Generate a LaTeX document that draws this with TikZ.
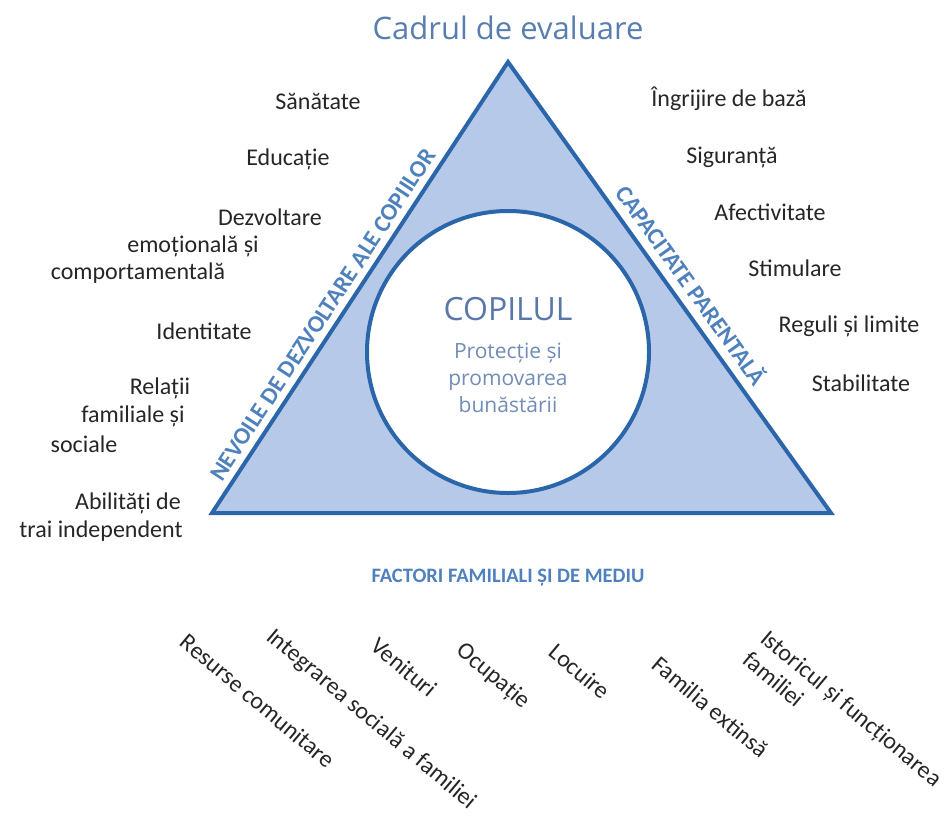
\documentclass[tikz,border=0pt]{standalone}
\usepackage{tikz}
\usepackage{fontspec}
\setmainfont{Carlito}
\newfontfamily\titlefont{Open Sans}
\definecolor{trifill}{HTML}{B7C9E9}
\definecolor{triline}{HTML}{2C66AA}
\definecolor{titleblue}{HTML}{5A7DB0}
\definecolor{sideblue}{HTML}{4F81BD}
\definecolor{childblue}{HTML}{5878AA}

\begin{document}
\begin{tikzpicture}[x=1pt,y=-1pt,
		lbl/.style={font=\fontsize{24}{28}\selectfont,text=black!85,inner sep=0pt},
		side/.style={font=\fontsize{24}{28}\selectfont\bfseries,text=sideblue,inner sep=0pt},
		factor/.style={lbl,rotate=-40,anchor=north west,align=left}]
		\useasboundingbox (0,0) rectangle (944,816);
		
		\coordinate (top) at (508,62);
		\coordinate (left) at (212,513);
		\coordinate (right) at (831,513);
		\fill[trifill] (top)--(left)--(right)--cycle;
		\node[circle,fill=white,draw=triline,line width=4pt,minimum size=282pt] (child) at (508,352) {};
		\draw[triline,line width=4pt] (top)--(left)--(right)--cycle;%triangle
		
		\node[font=\titlefont\fontsize{31}{36}\selectfont,text=titleblue] (title) at (508,28) {Cadrul de evaluare};
		\node[font=\titlefont\fontsize{32}{38}\selectfont,text=childblue] (copilul) at (508,309) {COPILUL};
		\node[font=\titlefont\fontsize{21}{27}\selectfont,text=childblue!85,align=center] (welfare) at (508,378) {Protecție și\\promovarea\\bunăstării};
		
		\path (left) -- (top) node[side,pos=.42,sloped,above=8pt] (needs) {NEVOILE DE DEZVOLTARE ALE COPIILOR};
		\path (top) -- (right) node[side,pos=.52,sloped,above=10pt] (parenting) {CAPACITATE PARENTALĂ};
		\node[font=\fontsize{20.5}{24}\selectfont\bfseries,text=sideblue] (family) at (508,578) {FACTORI FAMILIALI ȘI DE MEDIU};
		
		\node[lbl] (health) at (318,101) {Sănătate};
		\node[lbl] (school) at (288,159) {Educație};
		\node[lbl] (dev1) at (270,217) {Dezvoltare};
		\node[lbl] (dev2) at (193,246) {emoțională și};
		\node[lbl] (dev3) at (138,273) {comportamentală};
		\node[lbl] (identity) at (204,331) {Identitate};
		\node[lbl] (rel1) at (160,388) {Relații};
		\node[lbl] (rel2) at (133,416) {familiale și};
		\node[lbl] (rel3) at (84,444) {sociale};
		\node[lbl] (skill1) at (128,503) {Abilități de};
		\node[lbl] (skill2) at (101,531) {trai independent};
		
		\foreach \txt/\px/\py [count=\i] in {Îngrijire de bază/729/99,Siguranță/732/157,Afectivitate/770/212,Stimulare/795/268,Reguli și limite/849/326,Stabilitate/861/383}{
			\node[lbl] (care\i) at (\px,\py) {\txt}; }
		
		\foreach \txt/\px/\py [count=\i] in {Resurse comunitare/189/632,Integrarea socială a familiei/276/626,Venituri/380/636,Ocupație/466/640,Locuire/558/642,Familia extinsă/661/654}{
			\node[factor] (factor\i) at (\px,\py) {\txt}; }
		\node[factor] (factor7) at (770,628) {Istoricul și funcționarea\\familiei};
		
	\end{tikzpicture}
\end{document}
